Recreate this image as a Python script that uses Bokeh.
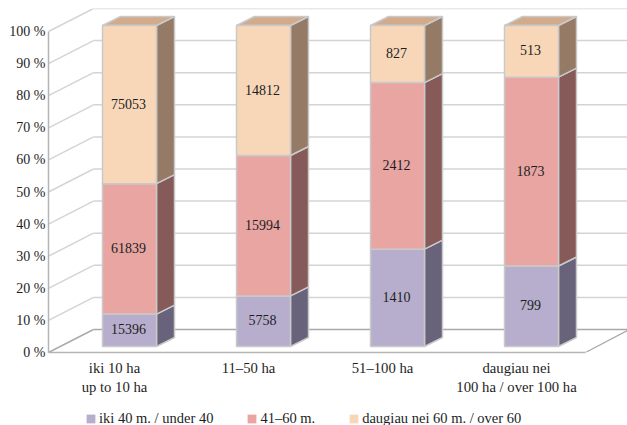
from bokeh.plotting import figure
from bokeh.layouts import column
from bokeh.models import Range1d, LinearAxis, FixedTicker, Legend, LegendItem
from bokeh.core.properties import value
from bokeh.embed import file_html
from bokeh.resources import INLINE

# --- data
categories = ["iki 10 ha\nup to 10 ha", "11–50 ha", "51–100 ha", "daugiau nei\n100 ha / over 100 ha"]
series_names = ["iki 40 m. / under 40", "41–60 m.", "daugiau nei 60 m. / over 60"]
under_40 = [15396, 5758, 1410, 799]
from_41_60 = [61839, 15994, 2412, 1873]
over_60 = [75053, 14812, 827, 513]
y_ticks = [0, 10, 20, 30, 40, 50, 60, 70, 80, 90, 100]

# --- styling and pseudo-3D geometry
FRONT = ["#b7aecd", "#e8a5a2", "#f8d6b8"]
SIDE = ["#68627a", "#855a58", "#957a65"]
TOP = "#d2ab8d"
EDGE = "#c9c9c9"
GRID = "#d4d4d4"
FONT = "Liberation Serif"
TXT = "#1e1e1e"
PX_X = 134.0     # pixels per category
PX_Y = 3.21      # pixels per percent
dx = lambda px: px / PX_X
dy = lambda px: px / PX_Y
BAR_W = dx(54)
BAR_FLOOR = dy(6)
BAR_DX, BAR_DY = dx(18), dy(9)
WALL_DX, WALL_DY = dx(45), dy(23)
X_LEFT = -81 / PX_X
X_FLOOR_R = 456 / PX_X
X_RIGHT = 498 / PX_X

W, H, LEG_H = 627, 400, 25
FRAME_LEFT, FRAME_TOP, FRAME_H = 48, 8, 344
p = figure(width=W, height=H, output_backend="svg", toolbar_location=None,
           x_range=Range1d(X_LEFT, X_RIGHT), y_range=Range1d(0, FRAME_H / PX_Y),
           x_axis_type=None, y_axis_type=None,
           min_border_left=FRAME_LEFT, min_border_right=0, min_border_top=FRAME_TOP,
           min_border_bottom=H - FRAME_H - FRAME_TOP)
p.outline_line_color = None
p.background_fill_color = "white"
p.xgrid.visible = False
p.ygrid.visible = False

# walls
for t in y_ticks:
    c = "#a9a9a9" if t == 0 else GRID
    p.segment([X_LEFT], [t], [X_LEFT + WALL_DX], [t + WALL_DY], line_color=c, line_width=1.5)
    p.segment([X_LEFT + WALL_DX], [t + WALL_DY], [X_RIGHT], [t + WALL_DY], line_color=c, line_width=1.5)
p.segment([X_FLOOR_R], [0], [X_RIGHT], [dy(22)], line_color="#a9a9a9", line_width=1.2)

# bars
columns = [under_40, from_41_60, over_60]
totals = [sum(c) for c in zip(*columns)]
for i in range(len(categories)):
    base = 0.0
    for s, col in enumerate(columns):
        pct = col[i] / totals[i] * 100
        l, r = i - BAR_W / 2, i + BAR_W / 2
        b, t = BAR_FLOOR + base, BAR_FLOOR + base + pct
        p.patch([r, r + BAR_DX, r + BAR_DX, r], [b, b + BAR_DY, t + BAR_DY, t],
                fill_color=SIDE[s], line_color=EDGE, line_width=1.5)
        if s == 2:
            p.patch([l, l + BAR_DX, r + BAR_DX, r], [t, t + BAR_DY, t + BAR_DY, t],
                    fill_color=TOP, line_color=EDGE, line_width=1.5)
        p.quad(left=[l], right=[r], bottom=[b], top=[t],
               fill_color=FRONT[s], line_color=EDGE, line_width=1.5)
        p.text([i - dx(1)], [(b + t) / 2 + dy(1)], text=[str(col[i])], text_align="center", text_baseline="middle",
               text_font=value(FONT), text_font_size="14px", text_color=TXT)
        base += pct

# axes
ya = LinearAxis(ticker=FixedTicker(ticks=y_ticks), bounds=(0, 100))
ya.major_label_overrides = {t: f"{t} %" for t in y_ticks}
ya.major_tick_line_color = None
ya.minor_tick_line_color = None
ya.axis_line_color = "#b5b5b5"
ya.axis_line_width = 1.5
ya.major_label_standoff = -3
ya.major_label_text_font = FONT
ya.major_label_text_font_size = "14px"
ya.major_label_text_color = TXT
p.add_layout(ya, "left")

label_pos = [i - 15 / PX_X for i in range(len(categories))]
xa = LinearAxis(ticker=FixedTicker(ticks=label_pos), bounds=(X_LEFT, X_FLOOR_R))
xa.major_label_overrides = dict(zip(label_pos, categories))
xa.major_tick_line_color = None
xa.minor_tick_line_color = None
xa.axis_line_color = "#b5b5b5"
xa.axis_line_width = 1.5
xa.major_label_standoff = 1
xa.major_label_text_font = FONT
xa.major_label_text_font_size = "14.7px"
xa.major_label_text_color = TXT
p.add_layout(xa, "below")

# legend strip
p2 = figure(width=W, height=LEG_H, output_backend="svg", toolbar_location=None,
            x_range=Range1d(0, 1), y_range=Range1d(0, 1), x_axis_type=None, y_axis_type=None,
            min_border_left=0, min_border_right=0, min_border_top=0, min_border_bottom=0)
p2.outline_line_color = None
p2.xgrid.visible = False
p2.ygrid.visible = False
swatches = [p2.quad(left=[2], right=[3], bottom=[2], top=[3], fill_color=c, line_color=None) for c in FRONT]
legend = Legend(items=[LegendItem(label=n, renderers=[r]) for n, r in zip(series_names, swatches)],
                orientation="horizontal", location=(37, -2),
                glyph_width=11, glyph_height=11, label_text_font=FONT, label_text_font_size="14.5px",
                label_text_color=TXT, spacing=33, margin=0, padding=0, label_standoff=3,
                border_line_color=None, background_fill_alpha=0)
p2.add_layout(legend, "center")

open("out.html", "w").write(file_html(column(p, p2, spacing=0), INLINE))
